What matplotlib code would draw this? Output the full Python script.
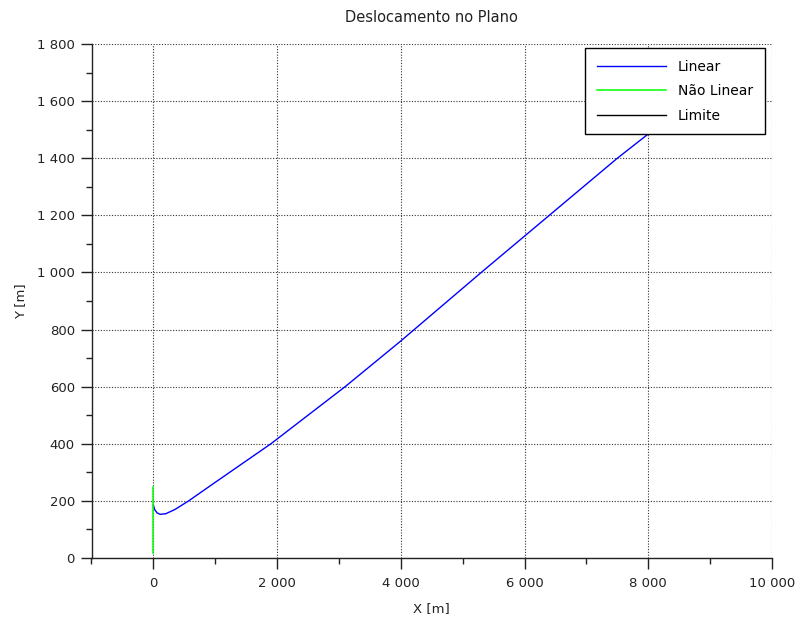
import matplotlib
matplotlib.use("Agg")
import matplotlib.pyplot as plt
from matplotlib.ticker import MultipleLocator, FuncFormatter

plt.rcParams['font.family'] = ['DejaVu Sans']

# Data
lin_x = [0, 20, 60, 110, 200, 350, 570, 1000, 1500, 1900, 2500, 3100, 4000, 5300, 6400, 7500, 8000]
lin_y = [185, 170, 158, 153, 155, 170, 200, 265, 340, 400, 500, 600, 760, 1000, 1200, 1400, 1485]
nl_x = [0, 0]
nl_y = [17, 250]
lim_x = []
lim_y = []

title = "Deslocamento no Plano"
xlabel = "X [m]"
ylabel = "Y [m]"

fig = plt.figure(figsize=(7.96, 6.18), dpi=100)
ax = fig.add_axes([91.5/796, 1-558/618, (772-91.5)/796, (558-44)/618])

ax.plot(lin_x, lin_y, color='#0000ff', lw=1.0, label='Linear', zorder=3)
ax.plot(nl_x, nl_y, color='#00ff00', lw=1.1, label='Não Linear', zorder=3)
ax.plot(lim_x, lim_y, color='black', lw=1.0, label='Limite', zorder=3)

ax.set_xlim(-1000, 10000)
ax.set_ylim(0, 1800)
ax.set_xticks([0, 2000, 4000, 6000, 8000, 10000])
ax.xaxis.set_minor_locator(MultipleLocator(1000))
ax.yaxis.set_major_locator(MultipleLocator(200))
ax.yaxis.set_minor_locator(MultipleLocator(100))

def fmt(v, pos):
    return f"{int(round(v)):,}".replace(",", " ")
ax.xaxis.set_major_formatter(FuncFormatter(fmt))
ax.yaxis.set_major_formatter(FuncFormatter(fmt))

for s in ['top', 'right']:
    ax.spines[s].set_visible(False)
for s in ['left', 'bottom']:
    ax.spines[s].set_color('#222222')
    ax.spines[s].set_linewidth(1.0)

ax.tick_params(axis='both', which='major', direction='out', length=8, width=1, labelsize=9.5, colors='#222222')
ax.tick_params(axis='x', which='major', pad=6)
ax.tick_params(axis='y', which='major', pad=4)
ax.tick_params(axis='both', which='minor', direction='out', length=4, width=1, colors='#222222')

ax.grid(True, which='major', color='#333333', linestyle=(0, (1, 1.5)), linewidth=0.8)
ax.set_axisbelow(True)

ax.set_title(title, fontsize=10.5, pad=16, color='#222222')
ax.set_xlabel(xlabel, fontsize=9.5, labelpad=8, color='#222222')
ax.set_ylabel(ylabel, fontsize=9.5, labelpad=7, color='#222222')

leg = ax.legend(loc='upper right', bbox_to_anchor=(765/796, 1-48/618), bbox_transform=fig.transFigure,
                fontsize=10, frameon=True, fancybox=False, edgecolor='black', framealpha=1,
                handlelength=5.0, handletextpad=0.85, borderpad=0.85, labelspacing=0.75, borderaxespad=0)
leg.get_frame().set_linewidth(1.0)

fig.savefig("out.png", dpi=100)
